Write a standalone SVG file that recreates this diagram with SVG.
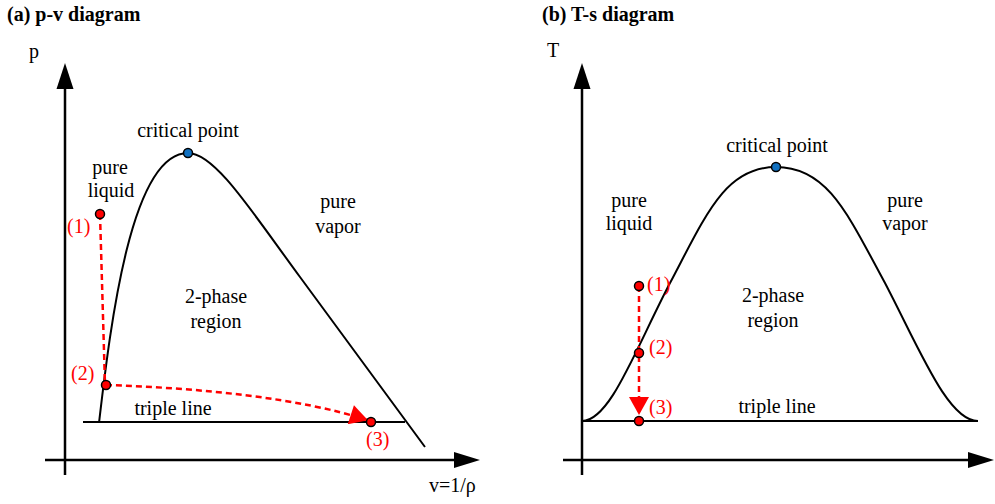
<svg xmlns="http://www.w3.org/2000/svg" width="995" height="504" viewBox="0 0 995 504">
<defs>
<style>
text{font-family:"Liberation Serif","Times New Roman",serif;font-size:20px;fill:#000}
.title{font-weight:bold;font-size:20px}
.red{fill:#ff0000}
.mid{text-anchor:middle}
.axis{stroke:#000;stroke-width:2.5;fill:none}
.curve{stroke:#000;stroke-width:2;fill:none}
.dash{stroke:#ff0000;stroke-width:2.5;fill:none;stroke-dasharray:6 4}
.pt{fill:#ff0000;stroke:#000;stroke-width:1.5}
.cp{fill:#1070c0;stroke:#000;stroke-width:1.5}
.ah{fill:#000}
</style>
<marker id="redArrow" markerWidth="20" markerHeight="20" viewBox="0 0 18 20" refX="17" refY="10" orient="auto" markerUnits="userSpaceOnUse">
<path d="M0,0 L18,10 L0,20 Z" fill="#ff0000"/>
</marker>
</defs>

<!-- titles -->
<text id="title-a" class="title" x="7" y="21">(a) p-v diagram</text>
<text id="title-b" class="title" x="542" y="21">(b) T-s diagram</text>

<!-- ===== Panel (a) ===== -->
<g id="axes-a">
<line class="axis" x1="65" y1="475" x2="65" y2="86"/>
<path class="ah" d="M65,63 L73.5,89 L56.5,89 Z"/>
<line class="axis" x1="45" y1="460" x2="457" y2="460"/>
<path class="ah" d="M480,460 L454,468 L454,452 Z"/>
<text x="29" y="58">p</text>
<text x="429" y="492">v=1/ρ</text>
</g>
<g id="dome-a">
<path class="curve" d="M99,423 C110,330 130,153 188,153 C215,153 252,212 300,277 L425,447"/>
<line class="curve" x1="83" y1="422" x2="405" y2="422"/>
</g>
<g id="connectors-a">
<path class="dash" d="M100,214 L105,385"/>
<path class="dash" d="M106,385 C200,388 300,398 367,420" marker-end="url(#redArrow)"/>
</g>
<g id="labels-a">
<text class="mid" x="188" y="137">critical point</text>
<text class="mid" x="110" y="174">pure</text>
<text class="mid" x="111" y="197">liquid</text>
<text class="mid" x="338" y="208">pure</text>
<text class="mid" x="338" y="233">vapor</text>
<text class="mid" x="216" y="303">2-phase</text>
<text class="mid" x="216" y="328">region</text>
<text class="mid" x="173" y="415">triple line</text>
</g>
<g id="points-a">
<circle class="cp" cx="188" cy="153" r="4.5"/>
<g id="a1"><circle class="pt" cx="100" cy="214" r="4.5"/><text class="red" x="67" y="233">(1)</text></g>
<g id="a2"><circle class="pt" cx="106" cy="385" r="4.5"/><text class="red" x="71" y="380">(2)</text></g>
<g id="a3"><circle class="pt" cx="371" cy="422" r="4.5"/><text class="red" x="366" y="446">(3)</text></g>
</g>

<!-- ===== Panel (b) ===== -->
<g id="axes-b">
<line class="axis" x1="582" y1="475" x2="582" y2="86"/>
<path class="ah" d="M582,63 L590.5,89 L573.5,89 Z"/>
<line class="axis" x1="563" y1="460" x2="970" y2="460"/>
<path class="ah" d="M994,460 L968,468 L968,452 Z"/>
<text x="547" y="57">T</text>
</g>
<g id="dome-b">
<path class="curve" d="M582,421 C610,421 635,350 670,283 C706,215 725,167 776,167 C828,167 848,215 885,283 C920,350 948,421 978,421"/>
<line class="curve" x1="582" y1="421" x2="978" y2="421"/>
</g>
<g id="connectors-b">
<path class="dash" d="M639,286 L639,414" marker-end="url(#redArrow)"/>
</g>
<g id="labels-b">
<text class="mid" x="777" y="152">critical point</text>
<text class="mid" x="629" y="207">pure</text>
<text class="mid" x="629" y="230">liquid</text>
<text class="mid" x="905" y="207">pure</text>
<text class="mid" x="905" y="230">vapor</text>
<text class="mid" x="773" y="302">2-phase</text>
<text class="mid" x="773" y="327">region</text>
<text class="mid" x="777" y="413">triple line</text>
</g>
<g id="points-b">
<circle class="cp" cx="776" cy="167" r="4.5"/>
<g id="b1"><circle class="pt" cx="639" cy="286" r="4.5"/><text class="red" x="647" y="291">(1)</text></g>
<g id="b2"><circle class="pt" cx="639" cy="353" r="4.5"/><text class="red" x="649" y="354">(2)</text></g>
<g id="b3"><circle class="pt" cx="639" cy="421" r="4.5"/><text class="red" x="649" y="414">(3)</text></g>
</g>
</svg>
